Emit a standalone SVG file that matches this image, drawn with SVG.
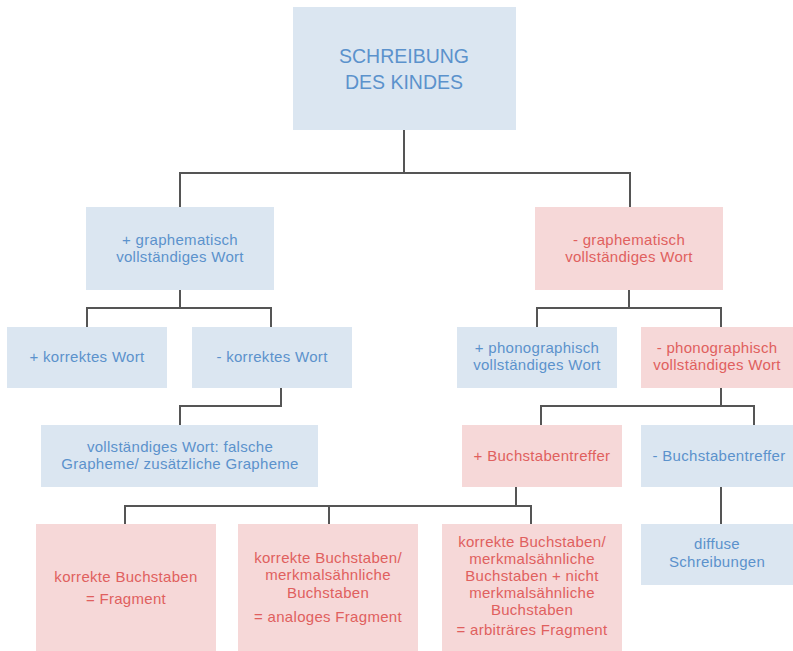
<svg xmlns="http://www.w3.org/2000/svg" width="793" height="651" viewBox="0 0 793 651">
<style>
.b{fill:#dbe6f1}
.r{fill:#f6d8d8}
.bt{fill:#5b92cc;font-family:"Liberation Sans",Arial,sans-serif;font-size:15px;text-anchor:middle;letter-spacing:0.3px}
.rt{fill:#e0605e;font-family:"Liberation Sans",Arial,sans-serif;font-size:15px;text-anchor:middle;letter-spacing:0.3px}
.big{font-size:19.5px;letter-spacing:0}
.c{fill:none;stroke:#555;stroke-width:2}
</style>
<rect width="793" height="651" fill="#fff"/>
<g id="connectors" class="c">
<path d="M404 130V173M180 207V173H630V207"/>
<path d="M180 290V308M87 327V308H271V327"/>
<path d="M629 290V308M537 327V308H721V327"/>
<path d="M281 388V406H180V425"/>
<path d="M721 388V406M541 425V406H754V425"/>
<path d="M516 487V506M125 524V506H531V524M329 506V524"/>
<path d="M721 487V524"/>
</g>
<g id="root"><rect class="b" x="293" y="7" width="223" height="123"/>
<text class="bt big" x="404" y="63">SCHREIBUNG</text><text class="bt big" x="404" y="89">DES KINDES</text></g>
<g id="plusGraph"><rect class="b" x="86" y="207" width="188" height="83"/>
<text class="bt" x="180" y="245">+ graphematisch</text><text class="bt" x="180" y="262">vollständiges Wort</text></g>
<g id="minusGraph"><rect class="r" x="535" y="207" width="188" height="83"/>
<text class="rt" x="629" y="245">- graphematisch</text><text class="rt" x="629" y="262">vollständiges Wort</text></g>
<g id="plusKorrekt"><rect class="b" x="7" y="327" width="160" height="61"/>
<text class="bt" x="87" y="362">+ korrektes Wort</text></g>
<g id="minusKorrekt"><rect class="b" x="192" y="327" width="160" height="61"/>
<text class="bt" x="272" y="362">- korrektes Wort</text></g>
<g id="plusPhono"><rect class="b" x="457" y="327" width="160" height="61"/>
<text class="bt" x="537" y="353">+ phonographisch</text><text class="bt" x="537" y="370">vollständiges Wort</text></g>
<g id="minusPhono"><rect class="r" x="641" y="327" width="152" height="61"/>
<text class="rt" x="717" y="353">- phonographisch</text><text class="rt" x="717" y="370">vollständiges Wort</text></g>
<g id="falscheGrapheme"><rect class="b" x="41" y="425" width="277" height="62"/>
<text class="bt" x="180" y="452">vollständiges Wort: falsche</text><text class="bt" x="180" y="469">Grapheme/ zusätzliche Grapheme</text></g>
<g id="plusBuch"><rect class="r" x="462" y="425" width="160" height="62"/>
<text class="rt" x="542" y="461">+ Buchstabentreffer</text></g>
<g id="minusBuch"><rect class="b" x="641" y="425" width="152" height="62"/>
<text class="bt" x="719" y="461">- Buchstabentreffer</text></g>
<g id="fragment"><rect class="r" x="36" y="524" width="180" height="127"/>
<text class="rt" x="126" y="582">korrekte Buchstaben</text><text class="rt" x="126" y="604">= Fragment</text></g>
<g id="analog"><rect class="r" x="238" y="524" width="180" height="127"/>
<text class="rt" x="328" y="563">korrekte Buchstaben/</text><text class="rt" x="328" y="580">merkmalsähnliche</text><text class="rt" x="328" y="598">Buchstaben</text><text class="rt" x="328" y="622">= analoges Fragment</text></g>
<g id="arbitraer"><rect class="r" x="442" y="524" width="180" height="127"/>
<text class="rt" x="532" y="547">korrekte Buchstaben/</text><text class="rt" x="532" y="564">merkmalsähnliche</text><text class="rt" x="532" y="581">Buchstaben + nicht</text><text class="rt" x="532" y="598">merkmalsähnliche</text><text class="rt" x="532" y="615">Buchstaben</text><text class="rt" x="532" y="635">= arbiträres Fragment</text></g>
<g id="diffus"><rect class="b" x="641" y="524" width="152" height="61"/>
<text class="bt" x="717" y="549">diffuse</text><text class="bt" x="717" y="567">Schreibungen</text></g>
</svg>
